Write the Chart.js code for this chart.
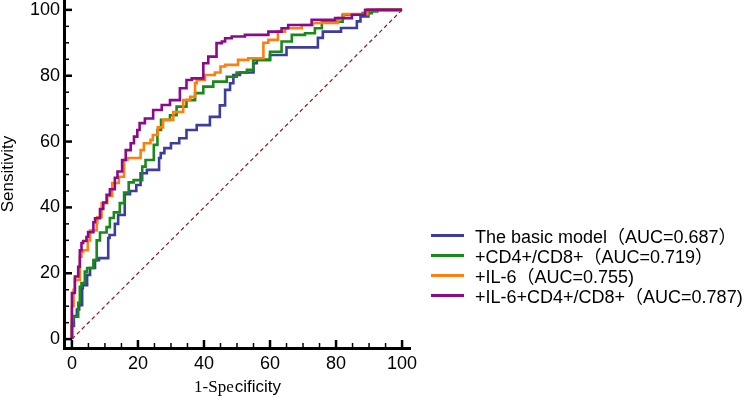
<!DOCTYPE html>
<html lang="en">
<head>
<meta charset="UTF-8">
<title>ROC curves</title>
<style>
  body { margin: 0; background: #fff; }
  .wrap { position: relative; width: 750px; height: 398px; }
  #roc { position: absolute; left: 0; top: 0; }
  .legend { position: absolute; left: 431px; top: 225px; font: 18px "Liberation Sans", Arial, "Noto Sans CJK SC", sans-serif; color: #000; }
  .legend .row { height: 20px; display: flex; align-items: center; white-space: nowrap; }
  .legend .sw { width: 33px; height: 3px; margin-right: 11px; }
</style>
</head>
<body>
<div class="wrap">
  <canvas id="roc" width="750" height="398"></canvas>
  <div class="legend" id="legend"></div>
</div>
<script src="https://cdn.jsdelivr.net/npm/chart.js"></script>
<script>
// series labels and colours
const seriesNames = [
  'The basic model（AUC=0.687）',
  '+CD4+/CD8+（AUC=0.719）',
  '+IL-6（AUC=0.755)',
  '+IL-6+CD4+/CD8+（AUC=0.787)'
];
const seriesColors = ['#3c3d9c', '#178a17', '#ff7f0e', '#8b0a8b'];

// 1-specificity / sensitivity
const basicX = [0, 0.6, 1.5, 2.2, 3.1, 3.3, 4.6, 5.5, 7, 8.2, 11, 11.4, 13, 14, 16, 17.6, 19.5, 20.8, 22.7, 24.2, 26.4, 26.9, 28, 30, 32.5, 34.7, 37.8, 41.8, 44.8, 46.4, 47.9, 48.9, 50.9, 55, 56, 60, 65, 70, 74.5, 76, 81.5, 86.3, 87.4, 89.8, 92.8, 100];
const basicY = [0, 4, 7, 9, 10.3, 15.5, 16.4, 19.5, 21.6, 24, 24.6, 30.7, 31.6, 35, 37.7, 44, 45, 46.8, 50.4, 51.4, 51.4, 55, 56.5, 58, 59.5, 61, 63.5, 65, 67.5, 71, 75.7, 77.7, 80.2, 81, 83.8, 84.8, 86.3, 88.6, 88.6, 91.5, 93.4, 94.5, 96.5, 98, 100, 100];

const cd48X = [0, 0.4, 1.9, 2.4, 2.9, 3.9, 4.6, 6.5, 7.5, 8.5, 10.5, 11.5, 12.7, 14.5, 15.8, 17.2, 18.7, 21.3, 22.3, 24.8, 25.9, 27, 29.7, 31.7, 34.7, 37.3, 39.8, 42.8, 46.9, 49.9, 53, 54.9, 58.5, 60, 63.5, 66.6, 70.6, 73.6, 75.7, 80.6, 82, 88, 90.8, 92.5, 94, 100];
const cd48Y = [0, 5.8, 6.8, 11, 15.9, 17, 20.5, 21.6, 24, 30, 32.4, 34, 36.8, 38.5, 41.3, 44.5, 47.6, 48.3, 52.4, 54.4, 59, 63.5, 66.6, 68, 70.6, 72.6, 74.7, 76.7, 78.2, 79.7, 81, 81.8, 84.8, 84.8, 87.3, 90.4, 92.4, 92.9, 94.4, 96.4, 96.4, 98.5, 99, 99.5, 100, 100];

const il6X = [0, 0.5, 0.9, 2.4, 2.9, 3.4, 4.8, 5.5, 7.5, 7.7, 9, 10.7, 12.2, 14.2, 15.8, 16.8, 18.3, 20.8, 21.8, 23.8, 24.5, 26, 27.6, 30.7, 33.7, 35.8, 37.3, 37.8, 40.3, 43.3, 45, 46.4, 50.3, 53.4, 58, 59.5, 62.4, 64.5, 69.6, 73, 80.6, 82.3, 89.5, 92.5, 100];
const il6Y = [0, 10, 15, 18, 25, 26.5, 27, 30, 33, 35.2, 37, 41.3, 43.5, 47.4, 49.3, 54.4, 55, 55, 57.4, 59.5, 60.5, 62, 64.3, 66.6, 69, 72.6, 73.6, 77.7, 78.7, 80.2, 81, 82.8, 83.3, 84.8, 85.3, 90, 90.9, 93.4, 94.4, 95.4, 96, 97.5, 98.7, 100, 100];

const bothX = [0, 0, 0.9, 1.9, 2.4, 2.9, 3.4, 4.4, 4.9, 6.5, 7, 8.5, 9.5, 10.5, 11.5, 13, 13.8, 15.2, 16.3, 17.8, 18.8, 19.8, 20.5, 22.1, 24.6, 27.2, 29.7, 32.7, 34.7, 36.3, 39.8, 41.3, 43.8, 45.4, 46.4, 48.4, 52.4, 59.5, 63.5, 65.5, 72.6, 79.7, 84.8, 88.8, 91.8, 100];
const bothY = [0, 9.8, 14, 19, 22, 27, 29.2, 29.8, 31, 32.5, 35.5, 36.7, 39.5, 41.5, 43.8, 45.5, 49, 50.9, 54.4, 57.4, 59.5, 61.5, 63.5, 65.6, 67, 69.6, 71.1, 72.6, 76.2, 78.7, 79.2, 83.8, 85.8, 89.9, 90.4, 91.4, 91.9, 92.4, 93.4, 94.4, 95.4, 97, 97.5, 98.5, 100, 100];

const seriesX = [basicX, cd48X, il6X, bothX];
const seriesY = [basicY, cd48Y, il6Y, bothY];

// reference line
const refX = [0, 100];
const refY = [0, 100];

const axisTicks = [0, 20, 40, 60, 80, 100];
const minorStep = 5;

const tickFont = { family: '"Liberation Sans", Arial, sans-serif', size: 18 };

function toPoints(xs, ys) {
  return xs.map((x, i) => ({ x: x, y: ys[i] }));
}

const datasets = seriesNames.map((name, i) => ({
  label: name,
  data: toPoints(seriesX[i], seriesY[i]),
  borderColor: seriesColors[i],
  borderWidth: 2.6,
  stepped: 'after',
  fill: false,
  pointRadius: 0,
  order: 4 - i
}));
datasets.push({
  label: 'reference',
  data: toPoints(refX, refY),
  borderColor: '#8b1c1c',
  borderWidth: 1.2,
  borderDash: [4, 3],
  fill: false,
  pointRadius: 0,
  order: 10
});

// inward tick marks + two-font x title
const axisDecor = {
  id: 'axisDecor',
  afterDraw(chart) {
    const ctx = chart.ctx;
    const xs = chart.scales.x, ys = chart.scales.y;
    const area = chart.chartArea;
    ctx.save();
    ctx.strokeStyle = '#000';
    for (let v = 0; v <= 100; v += minorStep) {
      const major = v % 20 === 0;
      const len = major ? 8 : 5;
      ctx.lineWidth = major ? 2.5 : 1.5;
      const px = xs.getPixelForValue(v);
      ctx.beginPath();
      ctx.moveTo(px, area.bottom);
      ctx.lineTo(px, area.bottom - len);
      ctx.stroke();
      const py = ys.getPixelForValue(v);
      ctx.beginPath();
      ctx.moveTo(area.left, py);
      ctx.lineTo(area.left + len, py);
      ctx.stroke();
    }

    const partA = '1-Spe', partB = 'cificity';
    const fontA = '17px "Liberation Serif", "DejaVu Serif", serif';
    const fontB = '17px "Liberation Sans", Arial, sans-serif';
    ctx.font = fontA;
    const wA = ctx.measureText(partA).width;
    ctx.font = fontB;
    const wB = ctx.measureText(partB).width;
    const cx = (area.left + area.right) / 2;
    let x0 = cx - (wA + wB) / 2;
    ctx.fillStyle = '#000';
    ctx.textAlign = 'left';
    ctx.textBaseline = 'alphabetic';
    ctx.font = fontA;
    ctx.fillText(partA, x0, 392);
    ctx.font = fontB;
    ctx.fillText(partB, x0 + wA + 1, 392);
    ctx.restore();
  }
};

new Chart(document.getElementById('roc'), {
  type: 'line',
  data: { datasets: datasets },
  options: {
    responsive: false,
    animation: false,
    layout: { padding: { left: 0, right: 340, top: 0, bottom: 0 } },
    plugins: { legend: { display: false }, tooltip: { enabled: false } },
    scales: {
      x: {
        type: 'linear',
        min: -2.4,
        max: 102.4,
        afterBuildTicks: s => { s.ticks = axisTicks.map(v => ({ value: v })); },
        afterFit: s => { s.height = 50; s.paddingLeft = 0; s.paddingRight = 0; },
        grid: { display: false, drawTicks: false },
        border: { display: true, color: '#000', width: 3 },
        ticks: { color: '#000', font: tickFont, padding: 5, maxRotation: 0, autoSkip: false }
      },
      y: {
        type: 'linear',
        min: -2.7,
        max: 103,
        afterBuildTicks: s => { s.ticks = axisTicks.map(v => ({ value: v })); },
        afterFit: s => { s.width = 64; s.paddingTop = 0; s.paddingBottom = 0; },
        grid: { display: false, drawTicks: false },
        border: { display: true, color: '#000', width: 3 },
        ticks: { color: '#000', font: tickFont, padding: 4, autoSkip: false },
        title: {
          display: true,
          text: 'Sensitivity',
          color: '#000',
          font: { family: '"Liberation Sans", Arial, sans-serif', size: 17, lineHeight: 1 },
          padding: { top: 0, bottom: 0 }
        }
      }
    }
  },
  plugins: [axisDecor]
});

// legend
const legendBox = document.getElementById('legend');
seriesNames.forEach((name, i) => {
  const row = document.createElement('div');
  row.className = 'row';
  const sw = document.createElement('span');
  sw.className = 'sw';
  sw.style.background = seriesColors[i];
  const txt = document.createElement('span');
  txt.textContent = name;
  row.appendChild(sw);
  row.appendChild(txt);
  legendBox.appendChild(row);
});
</script>
</body>
</html>
